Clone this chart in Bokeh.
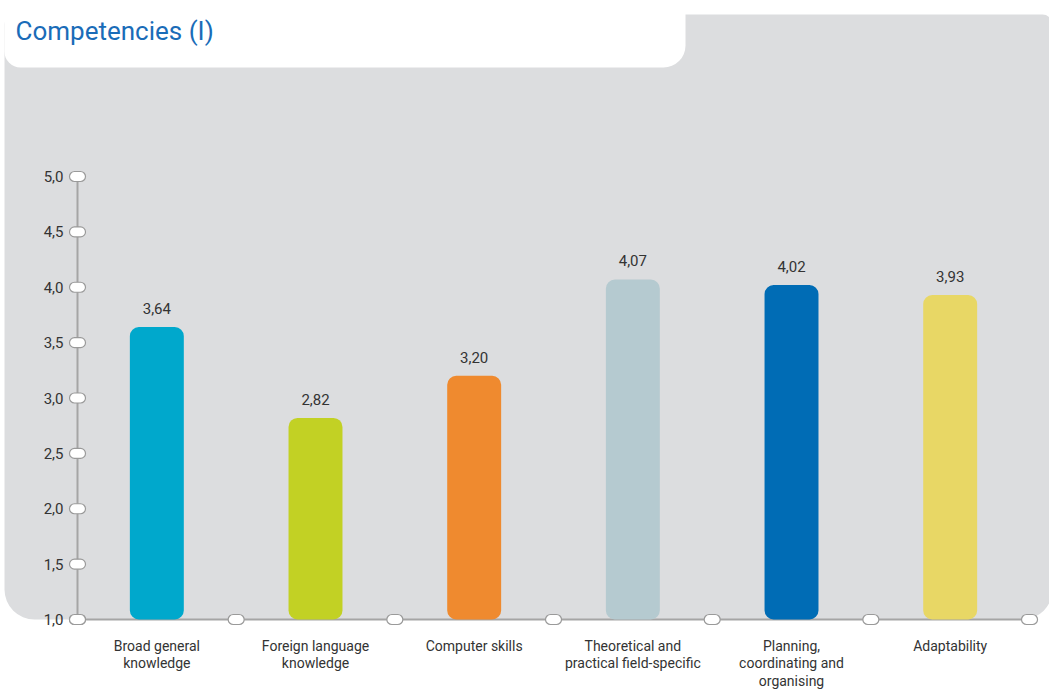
from bokeh.plotting import figure
from bokeh.models import Range1d, ColumnDataSource
from bokeh.core.properties import value
from bokeh.embed import file_html
from bokeh.resources import INLINE

# ---- data ----
categories = [
    "Broad general\nknowledge",
    "Foreign language\nknowledge",
    "Computer skills",
    "Theoretical and\npractical field-specific",
    "Planning,\ncoordinating and\norganising",
    "Adaptability",
]
values = [3.64, 2.82, 3.20, 4.07, 4.02, 3.93]
colors = ["#00a8cc", "#c2d124", "#ef8a2f", "#b5cad0", "#006cb5", "#e8d765"]
y_ticks = [1.0, 1.5, 2.0, 2.5, 3.0, 3.5, 4.0, 4.5, 5.0]
y_tick_labels = ["1,0", "1,5", "2,0", "2,5", "3,0", "3,5", "4,0", "4,5", "5,0"]
value_labels = [f"{v:.2f}".replace(".", ",") for v in values]
title = "Competencies (I)"

FONT = "Roboto"
GREY = "#dcdddf"
TEXT = "#333333"

W, H = 1049, 690
X0, XU = 77.0, 158.67   # canvas px of x=0 and px per category
Y1, YU = 619.0, 110.75  # canvas px of y=1.0 and px per unit


def px_x(px):
    return (px - X0) / XU


def px_y(py):
    return y_ticks[0] + (Y1 - py) / YU


p = figure(width=W, height=H,
           x_range=Range1d(px_x(0), px_x(W)), y_range=Range1d(px_y(H), px_y(0)),
           x_axis_type=None, y_axis_type=None,
           output_backend="svg", toolbar_location=None, min_border=0,
           outline_line_color=None, background_fill_color="white",
           border_fill_color="white")

# background panel and title tab
p.quad(left=[px_x(4)], right=[px_x(1052)], top=[px_y(14)], bottom=[y_ticks[0]],
       fill_color=GREY, line_color=None, border_radius=(10, 10, 30, 30))
p.quad(left=[px_x(4)], right=[px_x(685)], top=[px_y(-20)], bottom=[px_y(67)],
       fill_color="white", line_color=None, border_radius=(0, 0, 22, 16))

p.text(x=[px_x(15)], y=[px_y(30)], text=[title], text_baseline="middle",
       text_font=value("Roboto"), text_font_size="26px", text_color="#1a6cb8")

n = len(categories)
centers = [i + 0.5 for i in range(n)]
bounds = list(range(n + 1))

# axes
p.line(x=[0, 0], y=[y_ticks[0], y_ticks[-1]], line_color="#a5a5a5", line_width=2)
p.line(x=[0, n], y=[y_ticks[0], y_ticks[0]], line_color="#a5a5a5", line_width=2)

# bars
src = ColumnDataSource(dict(x=centers, top=values, color=colors, lab=value_labels,
                            cat=categories))
p.vbar(x="x", top="top", bottom=y_ticks[0], width=0.34, fill_color="color",
       line_color=None, border_radius=9, source=src)

# tick pills
p.rect(x=[0] * len(y_ticks), y=y_ticks, width=16, height=10, width_units="screen",
       height_units="screen", fill_color="white", line_color="#9a9a9a",
       line_width=1.2, border_radius=5)
p.rect(x=bounds, y=[y_ticks[0]] * len(bounds), width=16, height=10,
       width_units="screen", height_units="screen", fill_color="white",
       line_color="#9a9a9a", line_width=1.2, border_radius=5)

# tick labels
p.text(x=[0] * len(y_ticks), y=y_ticks, text=y_tick_labels, text_align="right",
       text_baseline="middle", x_offset=-14, text_font=value(FONT),
       text_font_size="15px", text_color=TEXT)

# value labels
p.text(x="x", y="top", text="lab", text_align="center", text_baseline="bottom",
       y_offset=-13, text_font=value(FONT), text_font_size="15px",
       text_color=TEXT, source=src)

# category labels
p.text(x="x", y=y_ticks[0], text="cat", text_align="center", text_baseline="top",
       y_offset=18, text_line_height=1.12, text_font=value(FONT),
       text_font_size="14px", text_color=TEXT, source=src)

open("out.html", "w").write(file_html(p, INLINE))
